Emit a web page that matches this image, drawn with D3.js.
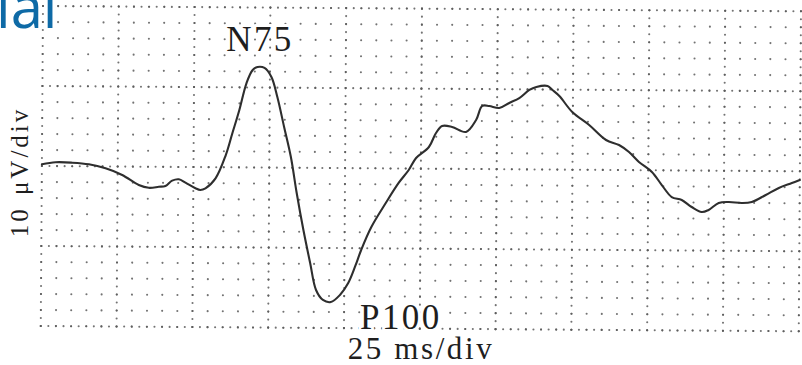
<!DOCTYPE html>
<html>
<head>
<meta charset="utf-8">
<script src="https://cdn.jsdelivr.net/npm/d3@7"></script>
<style>
  html, body { margin: 0; padding: 0; background: #fff; }
  svg { display: block; }
</style>
</head>
<body>
<svg id="chart" width="802" height="365"></svg>
<script>
// Visual evoked potential trace: time in ms, amplitude in µV (negative plotted upward)
const timeMs = [0, 4.5, 10, 15.5, 21, 26.5, 32, 35.3, 38.6, 40.8, 43, 45.2, 47.4, 50.7, 52.3, 54,
  57.3, 60.6, 62.7, 65, 67.3, 69.3, 70.9, 73.2, 75.5, 77.5, 79.8, 82.1, 84.1, 86.4, 88.7, 90.7,
  93, 95.6, 98.6, 101.3, 103.6, 105.5, 108.8, 113.5, 117.7, 121, 123.4, 127.6, 129.9, 131.9,
  135.2, 139.8, 143.1, 145.1, 147.4, 150.7, 154, 157.3, 160.6, 162.9, 166.6, 168.2, 170.5,
  174.8, 180.4, 186, 190.3, 193.6, 196.9, 201.2, 204.5, 207.8, 211.1, 214.4, 217.7, 220,
  223.3, 226.6, 230.9, 234.2, 238.8, 243.1, 247.4, 250];
const microVolts = [-0.21, -0.48, -0.44, -0.25, 0.24, 1.05, 2.29, 2.63, 2.5, 2.39, 1.72, 1.54, 1.96, 2.65, 2.86, 2.65,
  1.39, -1.5, -4.2, -7.17, -10.55, -12.19, -12.56, -12.45, -11.33, -8.83, -5.09, -1.34, 3.15, 7.78, 11.89, 15.26,
  16.5, 16.75, 15.86, 14.36, 12.22, 10.22, 7.34, 4.33, 1.81, 0.18, -1.33, -2.71, -4.47, -5.35,
  -5.24, -4.63, -6.13, -7.89, -7.89, -7.65, -8.29, -8.91, -9.93, -10.31, -10.44, -9.95, -9.2,
  -7.21, -5.6, -3.74, -3.13, -2.26, -1.03, 0.21, 1.84, 3.33, 3.69, 4.56, 5.18, 4.91,
  4.03, 3.9, 4.01, 3.88, 2.99, 2.1, 1.48, 1.09];

// Grid divisions: 25 ms and 10 µV per major division, 5 minor steps each
const timeDomain = [0, 250];
const voltDomain = [-20, 20];
const majorTime = 25, minorTime = 5;
const majorVolt = 10, minorVolt = 2;

const peakLabels = ["N75", "P100"];
const xAxisLabel = "25 ms/div";
const yAxisLabel = "10 \u03BCV/div";
const headerText = "ial";

const svg = d3.select("#chart");
const plotLeft = 43, plotRight = 801, plotTop = 6, plotBottom = 326;

const x = d3.scaleLinear().domain(timeDomain).range([plotLeft, plotRight]);
const y = d3.scaleLinear().domain(voltDomain).range([plotTop, plotBottom]);

// Paper trace is slightly skewed on the recorder
const plot = svg.append("g").attr("transform", `rotate(0.4, ${plotLeft}, ${plotTop})`);

const rng = (a, b, s) => d3.range(a, b + s / 2, s);
const dots = [];
// minor intersections
rng(timeDomain[0], timeDomain[1], minorTime).forEach(t =>
  rng(voltDomain[0], voltDomain[1], minorVolt).forEach(v => dots.push([t, v])));
// denser dots along major rows
rng(voltDomain[0], voltDomain[1], majorVolt).forEach(v =>
  rng(timeDomain[0], timeDomain[1], minorTime / 2).forEach(t => dots.push([t, v])));
// denser dots along major columns
rng(timeDomain[0], timeDomain[1], majorTime).forEach(t =>
  rng(voltDomain[0], voltDomain[1], minorVolt / 2).forEach(v => dots.push([t, v])));

plot.append("g").attr("class", "grid")
  .selectAll("circle").data(dots).join("circle")
  .attr("cx", d => x(d[0]))
  .attr("cy", d => y(d[1]))
  .attr("r", 1.05)
  .attr("fill", "#5a5a5a")
  .attr("fill-opacity", 0.85);

const trace = timeMs.map((t, i) => [t, microVolts[i]]);
const line = d3.line()
  .x(d => x(d[0]))
  .y(d => y(d[1]))
  .curve(d3.curveCatmullRom.alpha(0.5));

plot.append("path")
  .datum(trace)
  .attr("fill", "none")
  .attr("stroke", "#2e2e2e")
  .attr("stroke-width", 2.1)
  .attr("stroke-linejoin", "round")
  .attr("stroke-linecap", "round")
  .attr("d", line);

// Peak annotations
const nIdx = d3.minIndex(microVolts);
const pIdx = d3.maxIndex(microVolts);
const serif = "'Liberation Serif', 'Times New Roman', serif";

function label(txt, px, py, size, spacing) {
  return svg.append("text")
    .attr("x", px).attr("y", py)
    .attr("text-anchor", "middle")
    .attr("font-family", serif)
    .attr("font-size", size)
    .attr("letter-spacing", spacing)
    .attr("fill", "#1e1e1e")
    .attr("stroke", "#fff").attr("stroke-width", 6)
    .attr("paint-order", "stroke")
    .attr("stroke-linejoin", "round")
    .text(txt);
}

label(peakLabels[0], x(timeMs[nIdx]) + 2, y(microVolts[nIdx]) - 15, 35, 2.4);
label(peakLabels[1], x(timeMs[pIdx]) + 68, y(microVolts[pIdx]) + 29, 35, 2.4);

svg.append("text")
  .attr("x", 421).attr("y", 359)
  .attr("text-anchor", "middle")
  .attr("font-family", serif)
  .attr("font-size", 31)
  .attr("letter-spacing", 2.6)
  .attr("fill", "#1e1e1e")
  .text(xAxisLabel);

svg.append("text")
  .attr("transform", "translate(28,172) rotate(-90)")
  .attr("text-anchor", "middle")
  .attr("font-family", serif)
  .attr("font-size", 25)
  .attr("letter-spacing", 3)
  .attr("word-spacing", 2)
  .attr("fill", "#1e1e1e")
  .text(yAxisLabel);

svg.append("text")
  .attr("x", -4).attr("y", 28)
  .attr("font-family", "'Open Sans', 'Noto Sans', sans-serif")
  .attr("font-size", 58)
  .attr("fill", "#0e6aa6")
  .text(headerText);
</script>
</body>
</html>
